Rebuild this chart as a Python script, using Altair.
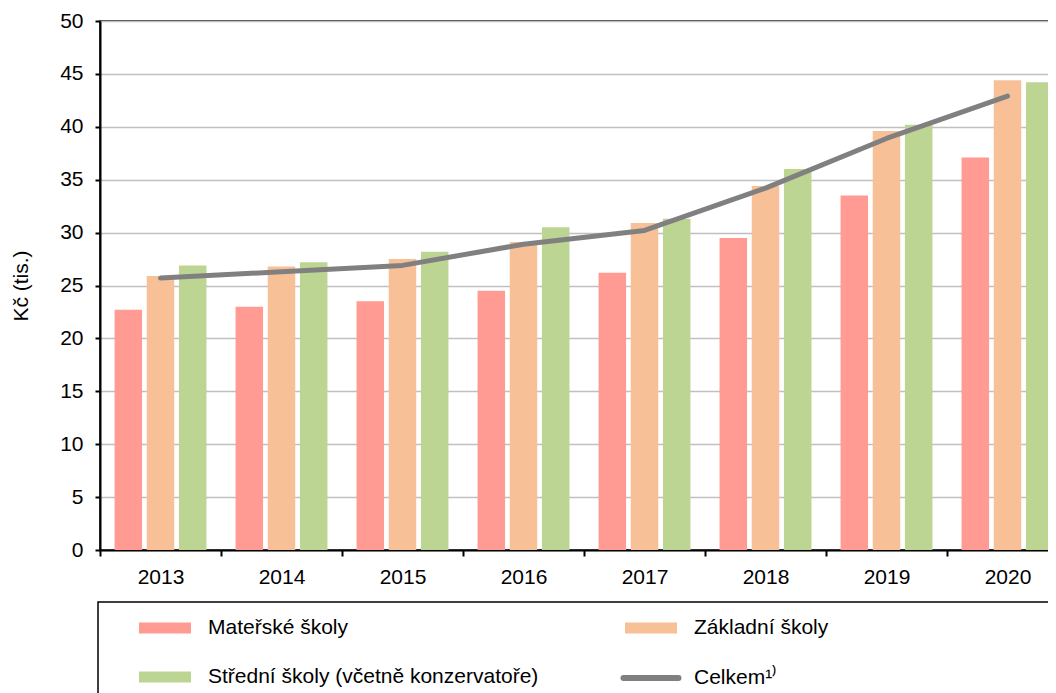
import altair as alt
import pandas as pd

years = ["2013", "2014", "2015", "2016", "2017", "2018", "2019", "2020"]
series = ["Mateřské školy", "Základní školy", "Střední školy (včetně konzervatoře)"]
materske = [22.7, 23.0, 23.5, 24.5, 26.2, 29.5, 33.5, 37.1]
zakladni = [25.9, 26.8, 27.5, 29.1, 30.9, 34.4, 39.6, 44.4]
stredni = [26.9, 27.2, 28.2, 30.5, 31.3, 36.0, 40.2, 44.2]
celkem = [25.7, 26.3, 26.9, 28.9, 30.2, 34.2, 38.9, 42.9]
celkem_label = "Celkem¹⁾"
y_ticks = [0, 5, 10, 15, 20, 25, 30, 35, 40, 45, 50]

bar_colors = ["#FF9B93", "#F8C097", "#BDD592"]
line_color = "#808080"
FONT = "Liberation Sans"

rows = []
for i, yr in enumerate(years):
    for s, vals in zip(series, [materske, zakladni, stredni]):
        rows.append({"rok": yr, "typ": s, "hodnota": vals[i]})
bars_df = pd.DataFrame(rows)
line_df = pd.DataFrame({"rok": years, "hodnota": celkem, "serie": [celkem_label] * len(years)})

x_enc = alt.X(
    "rok:N", sort=years, title=None,
    scale=alt.Scale(paddingInner=0, paddingOuter=0),
    axis=alt.Axis(tickBand="extent", labelAngle=0, tickSize=6, labelPadding=10, grid=False),
)
y_enc = alt.Y(
    "hodnota:Q",
    scale=alt.Scale(domain=[0, 50], nice=False),
    axis=alt.Axis(values=y_ticks, title="Kč (tis.)", tickSize=5, labelPadding=12,
                  titlePadding=28, grid=True),
)

rect_path = "M-1,-0.21L1,-0.21L1,0.21L-1,0.21Z"
capsule_path = "M-1,-0.055L1,-0.055A0.055,0.055 0 0 1 1,0.055L-1,0.055A0.055,0.055 0 0 1 -1,-0.055Z"

bars = alt.Chart(bars_df).mark_bar().encode(
    x=x_enc,
    xOffset=alt.XOffset("typ:N", sort=series,
                        scale=alt.Scale(paddingInner=0.146, paddingOuter=0.452)),
    y=y_enc,
    color=alt.Color(
        "typ:N", sort=series,
        scale=alt.Scale(domain=series, range=bar_colors),
        legend=alt.Legend(
            orient="none", legendX=39, legendY=581, columns=2, direction="horizontal",
            title=None, symbolType=rect_path, symbolSize=2704, symbolStrokeWidth=0,
            labelFontSize=21, labelFont=FONT, labelColor="black", labelOffset=17,
            labelLimit=600, columnPadding=86, rowPadding=13, padding=0,
        ),
    ),
)

line = alt.Chart(line_df).mark_line(strokeWidth=5, strokeCap="round", strokeJoin="round").encode(
    x=x_enc,
    y=y_enc,
    stroke=alt.Stroke(
        "serie:N",
        scale=alt.Scale(domain=[celkem_label], range=[line_color]),
        legend=alt.Legend(
            orient="none", legendX=522, legendY=628, title=None,
            symbolType=capsule_path, symbolSize=3025, symbolStrokeWidth=3,
            labelFontSize=21, labelFont=FONT, labelColor="black", labelOffset=14,
            labelLimit=600, padding=0,
        ),
    ),
)

box = alt.Chart(pd.DataFrame({"k": [0]})).mark_rect(
    fillOpacity=0, stroke="black", strokeWidth=1.5
).encode(
    x=alt.value(-2), x2=alt.value(1100), y=alt.value(581), y2=alt.value(720)
)

chart = alt.layer(bars, line, box).properties(
    width=968, height=529,
    autosize=alt.AutoSizeParams(type="none"),
    padding={"left": 92, "top": 13, "right": -20, "bottom": 143},
).configure(
    font=FONT
).configure_view(
    stroke="black", strokeWidth=1.5
).configure_axis(
    domainColor="black", domainWidth=2, tickColor="black", tickWidth=2,
    gridColor="#c0c0c0", gridWidth=1.5,
    labelFont=FONT, labelFontSize=21, labelColor="black",
    titleFont=FONT, titleFontSize=21, titleFontWeight="normal", titleColor="black",
)

chart.save("out.html", embed_options={"renderer": "svg", "actions": False})
